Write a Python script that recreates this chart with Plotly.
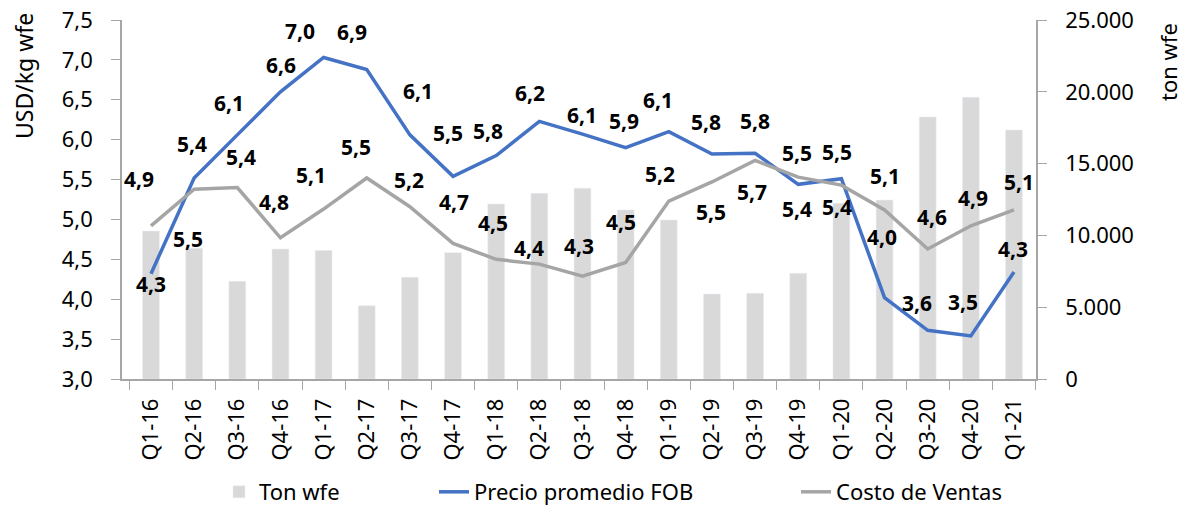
import plotly.graph_objects as go

categories = ["Q1-16", "Q2-16", "Q3-16", "Q4-16", "Q1-17", "Q2-17", "Q3-17", "Q4-17",
              "Q1-18", "Q2-18", "Q3-18", "Q4-18", "Q1-19", "Q2-19", "Q3-19", "Q4-19",
              "Q1-20", "Q2-20", "Q3-20", "Q4-20", "Q1-21"]
ton_wfe = [10300, 9100, 6800, 9050, 8950, 5100, 7080, 8800, 12190, 12930, 13280, 11770,
           11070, 5920, 5970, 7360, 12240, 12460, 18250, 19620, 17340]
precio_fob = [4.32, 5.52, 6.06, 6.60, 7.03, 6.88, 6.06, 5.54, 5.80, 6.23, 6.07, 5.90,
              6.10, 5.82, 5.83, 5.44, 5.51, 4.02, 3.61, 3.54, 4.34]
costo_ventas = [4.92, 5.38, 5.40, 4.77, 5.13, 5.52, 5.16, 4.70, 4.50, 4.44, 4.29, 4.46,
                5.23, 5.47, 5.74, 5.53, 5.43, 5.12, 4.63, 4.92, 5.12]

# label offsets in pixels (dx, dy with dy positive downward)
precio_off = [(0, 10), (-6, 61), (-8, -32), (1, -27), (-24, -27), (-15, -37), (8, -44),
              (-5, -43), (-8, -25), (-9, -28), (-1, -19), (-2, -27), (-11, -32), (-6, -32),
              (0, -32), (-1, 25), (-4, -27), (-3, -61), (-11, -27), (-8, -34), (-1, -23)]
costo_off = [(-12, -47), (-2, -45), (4, -31), (-6, -36), (-13, -34), (-11, -31), (-1, -27),
             (1, -41), (-3, -36), (-10, -16), (-4, -30), (-5, -41), (-9, -27), (-1, 30),
             (-3, 32), (-1, -24), (-4, 22), (0, -34), (4, -32), (2, -28), (5, -28)]

FONT = "Noto Sans"
AXIS_COLOR = "#a6a6a6"
W, H = 1186, 508
L, R, T, B = 122, 150, 20, 129
PW, PH = W - L - R, H - T - B


def px_to_paper(px, py):
    return (px - L) / PW, 1 - (py - T) / PH


fig = go.Figure()
fig.add_trace(go.Bar(x=categories, y=ton_wfe, name="Ton wfe", marker_color="#d9d9d9",
                     yaxis="y", legend="legend"))
fig.add_trace(go.Scatter(x=categories, y=precio_fob, name="Precio promedio FOB",
                         mode="lines", line=dict(color="#4472c4", width=3.5), yaxis="y2",
                         legend="legend2"))
fig.add_trace(go.Scatter(x=categories, y=costo_ventas, name="Costo de Ventas",
                         mode="lines", line=dict(color="#a5a5a5", width=3.5), yaxis="y2",
                         legend="legend3"))

annotations = []
for vals, offs in ((precio_fob, precio_off), (costo_ventas, costo_off)):
    for c, v, (dx, dy) in zip(categories, vals, offs):
        annotations.append(dict(x=c, y=v, xref="x", yref="y2",
                                text="<b>" + f"{v:.1f}".replace(".", ",") + "</b>",
                                showarrow=False, xshift=dx, yshift=-dy,
                                font=dict(family=FONT, size=21, color="#000000")))

ax, ay = px_to_paper(24, 76)
annotations.append(dict(x=ax, y=ay, xref="paper", yref="paper", xanchor="center",
                        yanchor="middle", text="USD/kg wfe", showarrow=False, textangle=-90,
                        font=dict(family=FONT, size=23, color="#000000")))
ax, ay = px_to_paper(1168, 62)
annotations.append(dict(x=ax, y=ay, xref="paper", yref="paper", xanchor="center",
                        yanchor="middle", text="ton wfe", showarrow=False, textangle=-90,
                        font=dict(family=FONT, size=22, color="#000000")))

legend_common = dict(orientation="h", xref="container", yref="container",
                     xanchor="left", yanchor="middle", y=1 - 492 / H,
                     font=dict(family=FONT, size=22), bgcolor="rgba(0,0,0,0)")

fig.update_layout(
    width=W, height=H,
    margin=dict(l=L, r=R, t=T, b=B, autoexpand=False),
    paper_bgcolor="white", plot_bgcolor="white",
    separators=",.",
    bargap=0.61,
    font=dict(family=FONT, size=21, color="#000000"),
    xaxis=dict(type="category", showline=True, linecolor=AXIS_COLOR, linewidth=1.5,
               ticks="outside", tickson="boundaries", ticklen=9, tickcolor=AXIS_COLOR,
               tickangle=-90, tickfont=dict(family=FONT, size=22), showgrid=False,
               automargin=False, ticklabelstandoff=9),
    yaxis=dict(range=[0, 25000], dtick=5000, tickformat=",d", side="right",
               showline=True, linecolor=AXIS_COLOR, linewidth=1.5, ticks="outside",
               ticklen=9, tickcolor=AXIS_COLOR, showgrid=False, zeroline=False,
               tickfont=dict(family=FONT, size=22), automargin=False,
               ticklabelstandoff=14),
    yaxis2=dict(range=[3, 7.5], dtick=0.5, tickformat=".1f", side="left", overlaying="y",
                showline=True, linecolor=AXIS_COLOR, linewidth=1.5, ticks="outside",
                ticklen=9, tickcolor=AXIS_COLOR, showgrid=False, zeroline=False,
                tickfont=dict(family=FONT, size=22), automargin=False,
                ticklabelstandoff=14),
    legend=dict(x=219 / W, **legend_common),
    legend2=dict(x=434 / W, **legend_common),
    legend3=dict(x=796 / W, **legend_common),
    annotations=annotations,
    showlegend=True,
)

fig.write_html("out.html", post_script="document.body.style.margin='0';",
               config={"displayModeBar": False})
